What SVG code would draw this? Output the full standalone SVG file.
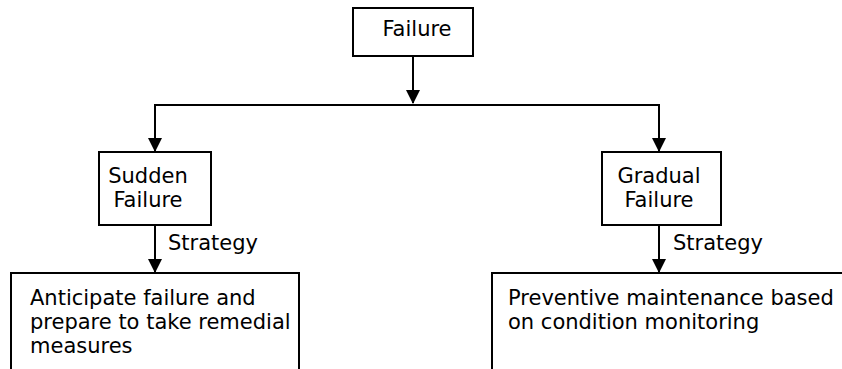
<svg xmlns="http://www.w3.org/2000/svg" width="842" height="369" viewBox="0 0 842 369">
<style>
.box{fill:#fff;stroke:#000;stroke-width:2}
.t{font-family:"DejaVu Sans","Verdana",sans-serif;font-size:21px;fill:#000}
.c{text-anchor:middle}
.ln{fill:none;stroke:#000;stroke-width:2}
</style>
<defs>
<marker id="ah" markerUnits="userSpaceOnUse" markerWidth="14" markerHeight="14" viewBox="0 0 14 14" refX="13" refY="7" orient="auto">
<path d="M0,0 L14,7 L0,14 z" fill="#000"/>
</marker>
</defs>
<rect width="842" height="369" fill="#fff"/>
<g id="connectors">
<path class="ln" d="M413,56 V103" marker-end="url(#ah)"/>
<path class="ln" d="M413,105 H155 V151" marker-end="url(#ah)"/>
<path class="ln" d="M413,105 H659 V151" marker-end="url(#ah)"/>
<path class="ln" d="M155,225 V272" marker-end="url(#ah)"/>
<path class="ln" d="M659,225 V272" marker-end="url(#ah)"/>
<text class="t" x="168" y="250">Strategy</text>
<text class="t" x="673" y="250">Strategy</text>
</g>
<g id="failure">
<rect class="box" x="353" y="8" width="120" height="48"/>
<text class="t c" x="417" y="36">Failure</text>
</g>
<g id="sudden">
<rect class="box" x="99" y="152" width="112" height="73"/>
<text class="t c" x="148" y="183">Sudden</text>
<text class="t c" x="148" y="207">Failure</text>
</g>
<g id="gradual">
<rect class="box" x="602" y="152" width="119" height="73"/>
<text class="t c" x="659" y="183">Gradual</text>
<text class="t c" x="659" y="207">Failure</text>
</g>
<g id="anticipate">
<rect class="box" x="11" y="273" width="288" height="120"/>
<text class="t" x="30" y="305">Anticipate failure and</text>
<text class="t" x="30" y="329">prepare to take remedial</text>
<text class="t" x="30" y="353">measures</text>
</g>
<g id="preventive">
<rect class="box" x="492" y="273" width="400" height="120"/>
<text class="t" x="508" y="305">Preventive maintenance based</text>
<text class="t" x="508" y="329">on condition monitoring</text>
</g>
</svg>
